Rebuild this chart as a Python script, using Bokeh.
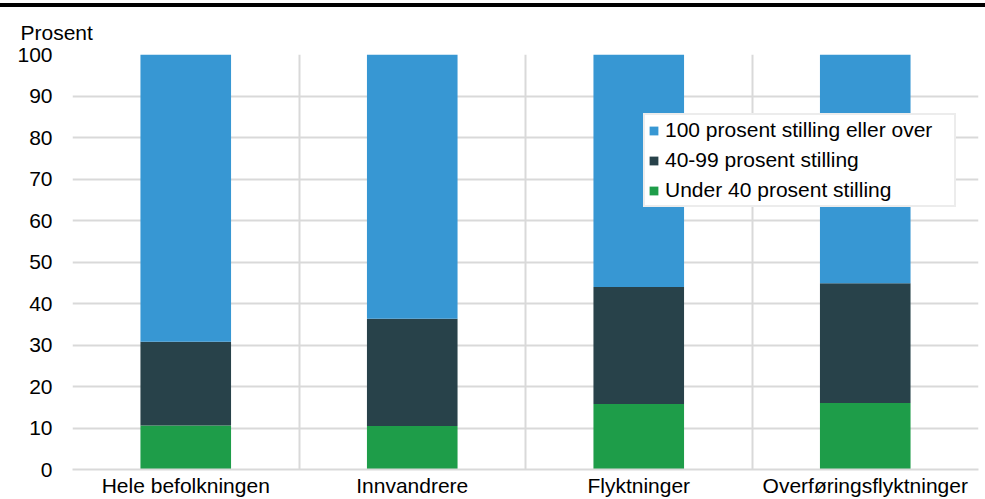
from bokeh.plotting import figure
from bokeh.models import ColumnDataSource, Range1d, FixedTicker, Legend, LegendItem, Div
from bokeh.layouts import column
from bokeh.embed import file_html
from bokeh.resources import INLINE

categories = ["Hele befolkningen", "Innvandrere", "Flyktninger", "Overføringsflyktninger"]
under40 = [10.6, 10.5, 15.8, 16.0]
mid = [20.2, 25.8, 28.2, 28.9]
full = [69.2, 63.7, 56.0, 55.1]
series_names = ["Under 40 prosent stilling", "40-99 prosent stilling", "100 prosent stilling eller over"]
colors = ["#1e9d49", "#28424a", "#3797d3"]
y_ticks = [0, 10, 20, 30, 40, 50, 60, 70, 80, 90, 100]

FONT = "Liberation Sans"
FS = "21px"

xpos = [i + 0.5 for i in range(len(categories))]
source = ColumnDataSource(dict(x=xpos, u=under40, m=mid, f=full))

W = 985
p = figure(width=W, height=492, output_backend="svg", toolbar_location=None,
           x_range=Range1d(0, len(categories)), y_range=Range1d(0, 100),
           min_border_left=72, min_border_right=7, min_border_top=47, min_border_bottom=0)

rs = p.vbar_stack(["u", "m", "f"], x="x", width=0.4, source=source, color=colors, line_color=None)

p.title.text = "Prosent"
p.title.align = "left"
p.title.offset = -52
p.title.text_font = FONT
p.title.text_font_size = FS
p.title.text_font_style = "normal"
p.title.text_color = "#000000"
try:
    p.title.standoff = 22
except Exception:
    pass

p.outline_line_color = None
p.background_fill_color = "white"

# grids
p.xgrid.ticker = FixedTicker(ticks=list(range(len(categories) + 1)))
p.xgrid.grid_line_color = "#d9d9d9"
p.xgrid.grid_line_width = 2
p.ygrid.ticker = FixedTicker(ticks=y_ticks)
p.ygrid.grid_line_color = "#d9d9d9"
p.ygrid.grid_line_width = 2

# axes
p.yaxis.ticker = FixedTicker(ticks=y_ticks)
p.yaxis.axis_line_color = None
p.yaxis.major_tick_line_color = None
p.yaxis.minor_tick_line_color = None
p.yaxis.major_label_standoff = 14
p.yaxis.major_label_text_font = FONT
p.yaxis.major_label_text_font_size = FS
p.yaxis.major_label_text_color = "#000000"

p.xaxis.ticker = FixedTicker(ticks=xpos)
p.xaxis.major_label_overrides = {x: c for x, c in zip(xpos, categories)}
p.xaxis.axis_line_color = "#d9d9d9"
p.xaxis.axis_line_width = 2
p.xaxis.major_tick_line_color = None
p.xaxis.minor_tick_line_color = None
p.xaxis.major_tick_out = 0
p.xaxis.major_label_standoff = 4
p.xaxis.major_label_text_font = FONT
p.xaxis.major_label_text_font_size = FS
p.xaxis.major_label_text_color = "#000000"

items = [LegendItem(label=series_names[i], renderers=[rs[i]]) for i in reversed(range(3))]
legend = Legend(items=items, location=(571, 262), orientation="vertical",
                label_text_font=FONT, label_text_font_size=FS, label_text_color="#000000",
                glyph_width=11, glyph_height=11, label_height=20, label_width=286,
                label_standoff=6, spacing=6, padding=3, margin=0,
                border_line_color="#d9d9d9", border_line_width=2,
                background_fill_color="white", background_fill_alpha=1.0)
p.add_layout(legend, "center")

bar = Div(text="", width=W, height=7, margin=(0, 0, 0, 0),
          styles={"background": "linear-gradient(to bottom, white 0px, white 3px, black 3px, black 7px)"})
p.margin = (0, 0, 0, 0)

layout = column(bar, p, spacing=0)

open("out.html", "w").write(file_html(layout, INLINE))
